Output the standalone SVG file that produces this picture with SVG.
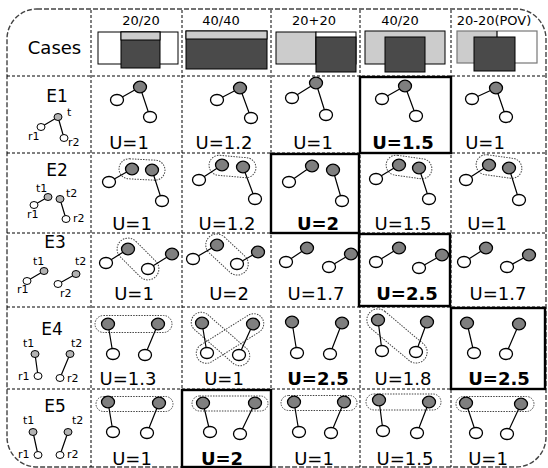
<svg xmlns="http://www.w3.org/2000/svg" width="548" height="468" viewBox="0 0 548 468">
<style>
text{font-family:"DejaVu Sans","Liberation Sans",sans-serif;fill:#000}
.hd{font-size:13px;text-anchor:middle}
.rl{font-size:17px;text-anchor:middle}
.u{font-size:18px;text-anchor:middle}
.ub{font-size:18px;text-anchor:middle;font-weight:bold}
.sm{font-size:11px}
.grid{stroke:#000;stroke-width:1;stroke-dasharray:3,2;fill:none}
.frame{stroke:#444;stroke-width:1.4;stroke-dasharray:5,2;fill:none}
.bold{fill:none;stroke:#000;stroke-width:2.4}
.g{fill:#7f7f7f;stroke:#000;stroke-width:1.3}
.w{fill:#fff;stroke:#000;stroke-width:1.3}
.sg{fill:#b3b3b3;stroke:#000;stroke-width:1}
.sw{fill:#fff;stroke:#000;stroke-width:1}
.e{stroke:#000;stroke-width:1.2;fill:none}
.pill{fill:none;stroke:#444;stroke-width:1;stroke-dasharray:1.5,1.2}
.dk{fill:#4a4a4a;stroke:#000;stroke-width:1}
.lt{fill:#cccccc;stroke:#000;stroke-width:1}
.wh{fill:#fff;stroke:#000;stroke-width:1}
</style>
<defs>
<ellipse id="G" class="g" rx="6.5" ry="5.8"/>
<ellipse id="W" class="w" rx="6.5" ry="5.5"/>
<ellipse id="SG" class="sg" rx="4" ry="3.5"/>
<ellipse id="SW" class="sw" rx="4" ry="3.5"/>
</defs>
<rect width="548" height="468" fill="#fff"/>

<g id="grid">
<path class="frame" d="M37,9 H516 A30,30 0 0 1 546,39 V437 A30,30 0 0 1 516,467 H37 A30,30 0 0 1 7,437 V39 A30,30 0 0 1 37,9 Z"/>
<path class="grid" d="M91,10 V467 M182,10 V467 M271,10 V467 M360,10 V467 M451,10 V467"/>
<path class="grid" d="M7,76 H546 M7,153 H546 M7,233 H546 M7,307 H546 M7,389 H546"/>
</g>

<g id="header">
<text x="54.5" y="54" style="font-size:18px;text-anchor:middle">Cases</text>
<text class="hd" x="141" y="25">20/20</text>
<text class="hd" x="221" y="25">40/40</text>
<text class="hd" x="314" y="25">20+20</text>
<text class="hd" x="400" y="25">40/20</text>
<text class="hd" x="494" y="25">20-20(POV)</text>
<g id="h-2020">
<rect class="wh" x="98" y="32" width="80" height="32"/>
<rect class="dk" x="121" y="32" width="39" height="36"/>
<rect class="lt" x="121" y="32" width="39" height="8"/>
</g>
<g id="h-4040">
<rect class="dk" x="186" y="31" width="81" height="38"/>
<rect class="lt" x="186" y="31" width="81" height="8"/>
</g>
<g id="h-20p20">
<rect class="lt" x="276" y="32" width="40" height="32"/>
<rect class="wh" x="316" y="32" width="40" height="32"/>
<rect class="dk" x="316" y="37" width="40" height="35"/>
</g>
<g id="h-4020">
<rect class="lt" x="365" y="31" width="80" height="33"/>
<rect class="dk" x="385" y="37" width="40" height="35"/>
</g>
<g id="h-pov">
<rect x="457" y="31" width="40" height="32" fill="#cccccc"/>
<rect x="457" y="31" width="80" height="32" fill="none" stroke="#777" stroke-width="1.2"/>
<line x1="497" y1="31" x2="497" y2="37" stroke="#000" stroke-width="1.2"/>
<rect class="dk" x="474" y="37" width="41" height="34"/>
</g>
</g>

<!-- row labels -->
<g id="E1">
<text class="rl" x="57" y="102">E1</text>
<path class="e" d="M58,117 L41,127 M58,117 L64,138" stroke-width="1"/>
<use href="#SG" x="58" y="117"/><use href="#SW" x="41" y="127"/><use href="#SW" x="64" y="138"/>
<text class="sm" x="67" y="116">t</text>
<text class="sm" x="28" y="140">r1</text>
<text class="sm" x="68" y="146">r2</text>
</g>
<g id="E2">
<text class="rl" x="57" y="176">E2</text>
<path class="e" d="M48,197 L34,205 M60,199 L66,219" stroke-width="1"/>
<use href="#SG" x="48" y="197"/><use href="#SG" x="60" y="199"/><use href="#SW" x="34" y="205"/><use href="#SW" x="66" y="219"/>
<text class="sm" x="36" y="192">t1</text>
<text class="sm" x="66" y="197">t2</text>
<text class="sm" x="27" y="218">r1</text>
<text class="sm" x="73" y="222">r2</text>
</g>
<g id="E3">
<text class="rl" x="55" y="248">E3</text>
<path class="e" d="M44,271 L27,281 M76,274 L58,284" stroke-width="1"/>
<use href="#SG" x="44" y="271"/><use href="#SG" x="76" y="274"/><use href="#SW" x="27" y="281"/><use href="#SW" x="58" y="284"/>
<text class="sm" x="33" y="265">t1</text>
<text class="sm" x="75" y="265">t2</text>
<text class="sm" x="17" y="293">r1</text>
<text class="sm" x="60" y="297">r2</text>
</g>
<g id="E4">
<text class="rl" x="52" y="335">E4</text>
<path class="e" d="M35,354 L38,376 M70,354 L60,378" stroke-width="1"/>
<use href="#SG" x="35" y="354"/><use href="#SG" x="70" y="354"/><use href="#SW" x="38" y="376"/><use href="#SW" x="60" y="378"/>
<text class="sm" x="23" y="347">t1</text>
<text class="sm" x="71" y="347">t2</text>
<text class="sm" x="18" y="380">r1</text>
<text class="sm" x="67" y="382">r2</text>
</g>
<g id="E5">
<text class="rl" x="55" y="412">E5</text>
<path class="e" d="M33,432 L38,455 M68,432 L60,455" stroke-width="1"/>
<use href="#SG" x="33" y="432"/><use href="#SG" x="68" y="432"/><use href="#SW" x="38" y="455"/><use href="#SW" x="60" y="455"/>
<text class="sm" x="23" y="424">t1</text>
<text class="sm" x="72" y="424">t2</text>
<text class="sm" x="18" y="458">r1</text>
<text class="sm" x="67" y="458">r2</text>
</g>

<!-- Row E1 cells -->
<g id="E1-c1"><g class="edges"><path class="e" d="M140,87 L117,100 M140,87 L150,117"/></g>
<use href="#G" x="140" y="87"/><use href="#W" x="117" y="100"/><use href="#W" x="150" y="117"/>
<text class="u" x="129" y="149">U=1</text></g>
<g id="E1-c2"><g class="edges"><path class="e" d="M240,88 L217,100 M240,88 L251,118"/></g>
<use href="#G" x="240" y="88"/><use href="#W" x="217" y="100"/><use href="#W" x="251" y="118"/>
<text class="u" x="224" y="149">U=1.2</text></g>
<g id="E1-c3"><g class="edges"><path class="e" d="M316,83 L292,98 M316,83 L326,115"/></g>
<use href="#G" x="316" y="83"/><use href="#W" x="292" y="98"/><use href="#W" x="326" y="115"/>
<text class="u" x="313" y="149">U=1</text></g>
<g id="E1-c4"><rect class="bold" x="360" y="77" width="91" height="76"/>
<g class="edges"><path class="e" d="M405,86 L382,99 M405,86 L416,116"/></g>
<use href="#G" x="405" y="86"/><use href="#W" x="382" y="99"/><use href="#W" x="416" y="116"/>
<text class="ub" x="403" y="149">U=1.5</text></g>
<g id="E1-c5"><g class="edges"><path class="e" d="M496,88 L472,99 M496,88 L506,117"/></g>
<use href="#G" x="496" y="88"/><use href="#W" x="472" y="99"/><use href="#W" x="506" y="117"/>
<text class="u" x="485" y="149">U=1</text></g>

<!-- Row E2 cells -->
<g id="E2-c1"><rect class="pill" x="119" y="159.5" width="46" height="20" rx="10" transform="rotate(3 142 169.5)"/>
<g class="edges"><path class="e" d="M132,169 L109,182 M152,170 L162,201"/></g>
<use href="#G" x="132" y="169"/><use href="#G" x="152" y="170"/><use href="#W" x="109" y="182"/><use href="#W" x="162" y="201"/>
<text class="u" x="132" y="230">U=1</text></g>
<g id="E2-c2"><rect class="pill" x="209" y="156.5" width="47" height="20" rx="10" transform="rotate(5 232.5 166.5)"/>
<g class="edges"><path class="e" d="M222,165 L199,180 M243,167 L255,199"/></g>
<use href="#G" x="222" y="165"/><use href="#G" x="243" y="167"/><use href="#W" x="199" y="180"/><use href="#W" x="255" y="199"/>
<text class="u" x="227" y="230">U=1.2</text></g>
<g id="E2-c3"><rect class="bold" x="271" y="154" width="88" height="79"/>
<g class="edges"><path class="e" d="M312,166 L289,182 M333,170 L342,201"/></g>
<use href="#G" x="312" y="166"/><use href="#G" x="333" y="170"/><use href="#W" x="289" y="182"/><use href="#W" x="342" y="201"/>
<text class="ub" x="318" y="230">U=2</text></g>
<g id="E2-c4"><rect class="pill" x="386" y="157" width="46" height="20" rx="10" transform="rotate(8 409 167)"/>
<g class="edges"><path class="e" d="M399,165 L376,179 M419,168 L429,199"/></g>
<use href="#G" x="399" y="165"/><use href="#G" x="419" y="168"/><use href="#W" x="376" y="179"/><use href="#W" x="429" y="199"/>
<text class="u" x="403" y="230">U=1.5</text></g>
<g id="E2-c5"><rect class="pill" x="476" y="156.5" width="46" height="20" rx="10" transform="rotate(8 499 166.5)"/>
<g class="edges"><path class="e" d="M489,165 L466,180 M509,168 L519,200"/></g>
<use href="#G" x="489" y="165"/><use href="#G" x="509" y="168"/><use href="#W" x="466" y="180"/><use href="#W" x="519" y="200"/>
<text class="u" x="487" y="230">U=1</text></g>

<!-- Row E3 cells -->
<g id="E3-c1"><rect class="pill" x="113" y="248" width="50" height="22" rx="11" transform="rotate(45 138 259)"/>
<g class="edges"><path class="e" d="M106,263 L128,249 M148,269 L172,254"/></g>
<use href="#W" x="106" y="263"/><use href="#G" x="128" y="249"/><use href="#W" x="148" y="269"/><use href="#G" x="172" y="254"/>
<text class="u" x="134" y="300">U=1</text></g>
<g id="E3-c2"><rect class="pill" x="202" y="243.5" width="50" height="22" rx="11" transform="rotate(43 227 254.5)"/>
<g class="edges"><path class="e" d="M193,259 L217,245 M237,264 L258,252"/></g>
<use href="#W" x="193" y="259"/><use href="#G" x="217" y="245"/><use href="#W" x="237" y="264"/><use href="#G" x="258" y="252"/>
<text class="u" x="229" y="300">U=2</text></g>
<g id="E3-c3"><g class="edges"><path class="e" d="M286,262 L307,248 M329,267 L351,254"/></g>
<use href="#W" x="286" y="262"/><use href="#G" x="307" y="248"/><use href="#W" x="329" y="267"/><use href="#G" x="351" y="254"/>
<text class="u" x="316" y="300">U=1.7</text></g>
<g id="E3-c4"><rect class="bold" x="359" y="234" width="91" height="72"/>
<g class="edges"><path class="e" d="M376,262 L399,248 M419,268 L442,255"/></g>
<use href="#W" x="376" y="262"/><use href="#G" x="399" y="248"/><use href="#W" x="419" y="268"/><use href="#G" x="442" y="255"/>
<text class="ub" x="407" y="300">U=2.5</text></g>
<g id="E3-c5"><g class="edges"><path class="e" d="M464,262 L486,248 M507,267 L529,255"/></g>
<use href="#W" x="464" y="262"/><use href="#G" x="486" y="248"/><use href="#W" x="507" y="267"/><use href="#G" x="529" y="255"/>
<text class="u" x="498" y="300">U=1.7</text></g>

<!-- Row E4 cells -->
<g id="E4-c1"><rect class="pill" x="95" y="315.5" width="77" height="17" rx="8.5"/>
<g class="edges"><path class="e" d="M108,324 L113,354 M158,324 L145,355"/></g>
<use href="#G" x="108" y="324"/><use href="#G" x="158" y="324"/><use href="#W" x="113" y="354"/><use href="#W" x="145" y="355"/>
<text class="u" x="128" y="385">U=1.3</text></g>
<g id="E4-c2"><rect class="pill" x="185" y="329" width="71" height="20" rx="10" transform="rotate(41 220.5 339)"/>
<rect class="pill" x="192" y="328.5" width="76" height="20" rx="10" transform="rotate(-32 230 338.5)"/>
<g class="edges"><path class="e" d="M202,323 L207,353 M253,324 L239,355"/></g>
<use href="#G" x="202" y="323"/><use href="#G" x="253" y="324"/><use href="#W" x="207" y="353"/><use href="#W" x="239" y="355"/>
<text class="u" x="224" y="385">U=1</text></g>
<g id="E4-c3"><g class="edges"><path class="e" d="M292,322 L297,353 M342,323 L330,354"/></g>
<use href="#G" x="292" y="322"/><use href="#G" x="342" y="323"/><use href="#W" x="297" y="353"/><use href="#W" x="330" y="354"/>
<text class="ub" x="318" y="385">U=2.5</text></g>
<g id="E4-c4"><rect class="pill" x="361" y="325" width="72" height="22" rx="11" transform="rotate(40 397 336)"/>
<g class="edges"><path class="e" d="M378,320 L382,351 M427,322 L416,352"/></g>
<use href="#G" x="378" y="320"/><use href="#G" x="427" y="322"/><use href="#W" x="382" y="351"/><use href="#W" x="416" y="352"/>
<text class="u" x="403" y="385">U=1.8</text></g>
<g id="E4-c5"><rect class="bold" x="451" y="308" width="94" height="81"/>
<g class="edges"><path class="e" d="M467,323 L474,353 M519,324 L506,354"/></g>
<use href="#G" x="467" y="323"/><use href="#G" x="519" y="324"/><use href="#W" x="474" y="353"/><use href="#W" x="506" y="354"/>
<text class="ub" x="499" y="385">U=2.5</text></g>

<!-- Row E5 cells -->
<g id="E5-c1"><rect class="pill" x="96" y="396.5" width="77" height="15" rx="7.5"/>
<g class="edges"><path class="e" d="M108,402 L113,432 M159,403 L147,433"/></g>
<use href="#G" x="108" y="402"/><use href="#G" x="159" y="403"/><use href="#W" x="113" y="432"/><use href="#W" x="147" y="433"/>
<text class="u" x="132" y="465">U=1</text></g>
<g id="E5-c2"><rect class="bold" x="182" y="390" width="89" height="77"/>
<rect class="pill" x="192" y="396" width="76" height="15" rx="7.5"/>
<g class="edges"><path class="e" d="M203,403 L210,432 M255,403 L240,434"/></g>
<use href="#G" x="203" y="403"/><use href="#G" x="255" y="403"/><use href="#W" x="210" y="432"/><use href="#W" x="240" y="434"/>
<text class="ub" x="222" y="465">U=2</text></g>
<g id="E5-c3"><rect class="pill" x="281" y="395.5" width="76" height="15" rx="7.5"/>
<g class="edges"><path class="e" d="M294,402 L299,432 M344,402 L331,433"/></g>
<use href="#G" x="294" y="402"/><use href="#G" x="344" y="402"/><use href="#W" x="299" y="432"/><use href="#W" x="331" y="433"/>
<text class="u" x="314" y="465">U=1</text></g>
<g id="E5-c4"><rect class="pill" x="366" y="394" width="75" height="16" rx="8"/>
<g class="edges"><path class="e" d="M379,400 L383,431 M429,402 L417,433"/></g>
<use href="#G" x="379" y="400"/><use href="#G" x="429" y="402"/><use href="#W" x="383" y="431"/><use href="#W" x="417" y="433"/>
<text class="u" x="405" y="465">U=1.5</text></g>
<g id="E5-c5"><rect class="pill" x="456" y="396.5" width="78" height="15" rx="7.5"/>
<g class="edges"><path class="e" d="M466,403 L476,433 M521,404 L507,434"/></g>
<use href="#G" x="466" y="403"/><use href="#G" x="521" y="404"/><use href="#W" x="476" y="433"/><use href="#W" x="507" y="434"/>
<text class="u" x="488" y="465">U=1</text></g>
</svg>
